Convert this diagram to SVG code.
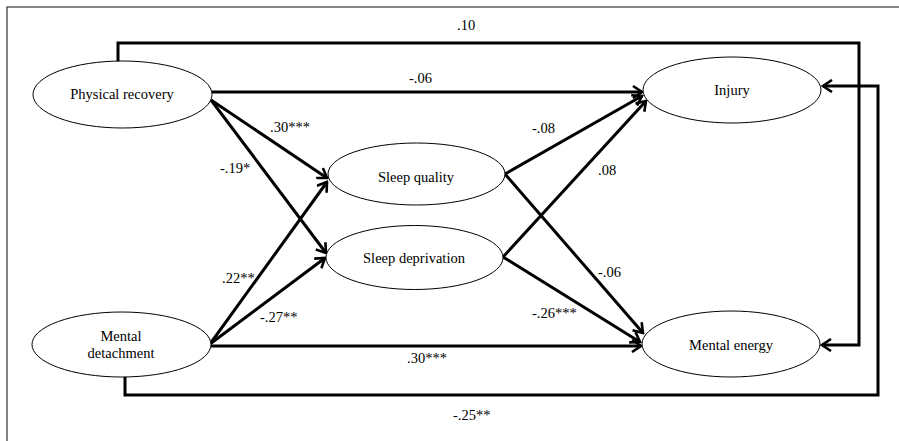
<svg xmlns="http://www.w3.org/2000/svg" width="899" height="441" viewBox="0 0 899 441">
<style>
.node ellipse{fill:#fff;stroke:#000;stroke-width:1}
text{font-size:14.5px;fill:#000}
.nt{text-anchor:middle}
.edges line,.edges polyline{stroke:#000;stroke-width:3;fill:none}
</style>
<defs>
<marker id="arr" markerUnits="userSpaceOnUse" markerWidth="14" markerHeight="14" viewBox="-12 -7 14 14" refX="0" refY="0" orient="auto">
<polyline points="-9,-6 0,0 -9,6" fill="none" stroke="#000" stroke-width="2.6"/>
</marker>
</defs>
<rect x="0" y="0" width="899" height="441" fill="#fff"/>
<rect x="7" y="7" width="905" height="450" fill="none" stroke="#444" stroke-width="1.3"/>
<g class="edges">
<polyline points="118,62 118,43 859,43 859,345 822,345" marker-end="url(#arr)"/>
<polyline points="125,377 125,395 878,395 878,86 823,86" marker-end="url(#arr)"/>
<line x1="212" y1="92" x2="642" y2="92" marker-end="url(#arr)"/>
<line x1="211" y1="100" x2="327" y2="178" marker-end="url(#arr)"/>
<line x1="211" y1="100" x2="326" y2="253" marker-end="url(#arr)"/>
<line x1="210" y1="344" x2="327" y2="182" marker-end="url(#arr)"/>
<line x1="210" y1="344" x2="325" y2="258" marker-end="url(#arr)"/>
<line x1="211" y1="346" x2="641" y2="346" marker-end="url(#arr)"/>
<line x1="505" y1="174" x2="642" y2="96" marker-end="url(#arr)"/>
<line x1="505" y1="174" x2="643" y2="333" marker-end="url(#arr)"/>
<line x1="503" y1="257" x2="646" y2="101" marker-end="url(#arr)"/>
<line x1="503" y1="257" x2="640" y2="342" marker-end="url(#arr)"/>
</g>
<g font-family="'Liberation Serif', 'DejaVu Serif', serif">
<g class="labels">
<text x="457" y="30">.10</text>
<text x="409" y="83">-.06</text>
<text x="270" y="132">.30***</text>
<text x="220" y="173">-.19*</text>
<text x="532" y="133">-.08</text>
<text x="598" y="175">.08</text>
<text x="222" y="283">.22**</text>
<text x="260" y="322">-.27**</text>
<text x="407" y="363">.30***</text>
<text x="598" y="277">-.06</text>
<text x="532" y="318">-.26***</text>
<text x="453" y="420">-.25**</text>
</g>
<g id="physical-recovery" class="node">
<ellipse cx="122.5" cy="94.5" rx="89.5" ry="33.5"/>
<text class="nt" x="122" y="99">Physical recovery</text>
</g>
<g id="sleep-quality" class="node">
<ellipse cx="416.5" cy="174" rx="88.5" ry="31"/>
<text class="nt" x="416" y="182">Sleep quality</text>
</g>
<g id="sleep-deprivation" class="node">
<ellipse cx="414.5" cy="257.5" rx="88.5" ry="32"/>
<text class="nt" x="414" y="263">Sleep deprivation</text>
</g>
<g id="mental-detachment" class="node">
<ellipse cx="121.5" cy="344.5" rx="89.5" ry="32.5"/>
<text class="nt" x="121" y="341">Mental</text>
<text class="nt" x="121" y="358">detachment</text>
</g>
<g id="injury" class="node">
<ellipse cx="732" cy="90" rx="89" ry="33"/>
<text class="nt" x="732" y="95">Injury</text>
</g>
<g id="mental-energy" class="node">
<ellipse cx="731" cy="344" rx="89" ry="33"/>
<text class="nt" x="731" y="350">Mental energy</text>
</g>
</g>
</svg>
